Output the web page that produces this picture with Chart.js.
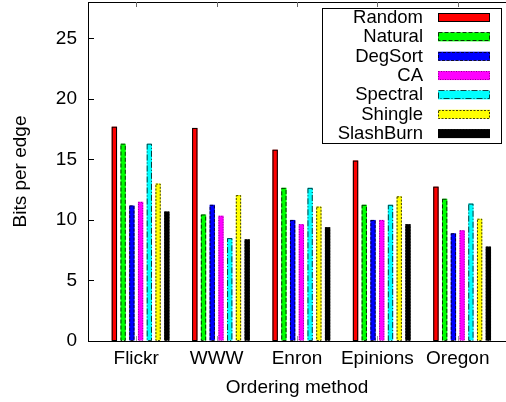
<!DOCTYPE html>
<html><head><meta charset="utf-8">
<style>html,body{margin:0;padding:0;background:#fff;overflow:hidden}#wrap{width:506px;height:402px;position:relative}</style>
<script src="https://cdn.jsdelivr.net/npm/chart.js@4/dist/chart.umd.min.js"></script>
</head><body><div id="wrap"><canvas id="c" width="506" height="402"></canvas></div>
<script>
// ---- data ----
const categories = ['Flickr', 'WWW', 'Enron', 'Epinions', 'Oregon'];
const seriesNames = ['Random', 'Natural', 'DegSort', 'CA', 'Spectral', 'Shingle', 'SlashBurn'];
const random    = [17.7, 17.6, 15.8, 14.9, 12.75];
const natural   = [16.3, 10.45, 12.65, 11.25, 11.75];
const degSort   = [11.2, 11.25, 10.0, 10.0, 8.9];
const ca        = [11.5, 10.35, 9.65, 10.0, 9.15];
const spectral  = [16.3, 8.5, 12.65, 11.25, 11.35];
const shingle   = [13.0, 12.05, 11.1, 11.95, 10.1];
const slashBurn = [10.7, 8.4, 9.4, 9.65, 7.8];
const yTicks = [0, 5, 10, 15, 20, 25];

// ---- styles ----
const seriesValues = [random, natural, degSort, ca, spectral, shingle, slashBurn];
const seriesColors = ['#ff0000', '#00ff00', '#0000ff', '#ff00ff', '#00ffff', '#ffff00', '#000000'];
const seriesDash = [[], [4, 2], [3, 1.5], [1, 1.5], [6, 2, 1, 2], [2, 1.5], [2, 1]];
const seriesEdge = ['#000', 'rgba(0,0,0,0.8)', 'rgba(0,0,0,0.8)', 'rgba(0,0,0,0.45)', 'rgba(0,0,0,0.75)', 'rgba(0,0,0,0.75)', 'rgba(0,0,0,0.8)'];
const FONT = '"Liberation Sans", Arial, Helvetica, sans-serif';

const datasets = [{ label: '', data: [], spacer: true, backgroundColor: 'rgba(0,0,0,0)' }];
seriesNames.forEach((name, s) => {
  datasets.push({
    label: name,
    data: categories.map((c, i) => ({ x: i, y: seriesValues[s][i] })),
    backgroundColor: seriesColors[s],
    borderWidth: 0,
    dash: seriesDash[s],
    edge: seriesEdge[s]
  });
});

const framePlugin = {
  id: 'frame',
  beforeDatasetsDraw(chart) {
    const { ctx, chartArea: a, scales: { x, y } } = chart;
    ctx.save();
    ctx.lineWidth = 1;
    ctx.strokeStyle = '#000';
    ctx.beginPath();
    ctx.moveTo(a.left, Math.round(a.top) + 0.5);
    ctx.lineTo(a.right, Math.round(a.top) + 0.5);
    ctx.stroke();
    // inward y ticks
    yTicks.forEach(v => {
      const py = Math.round(y.getPixelForValue(v)) + 0.5;
      ctx.beginPath();
      ctx.moveTo(a.left, py);
      ctx.lineTo(a.left + 6, py);
      ctx.stroke();
    });
    // x ticks (top & bottom, inward)
    categories.forEach((c, i) => {
      const px = Math.round(x.getPixelForValue(i)) + 0.5;
      ctx.strokeStyle = '#666';
      ctx.beginPath();
      ctx.moveTo(px, a.top);
      ctx.lineTo(px, a.top + 5);
      ctx.stroke();
      ctx.strokeStyle = '#999';
      ctx.beginPath();
      ctx.moveTo(px, a.bottom);
      ctx.lineTo(px, a.bottom - 5);
      ctx.stroke();
    });
    ctx.restore();
  },
  afterDatasetsDraw(chart) {
    const { ctx } = chart;
    ctx.save();
    ctx.lineWidth = 1;
    chart.data.datasets.forEach((ds, d) => {
      if (ds.spacer) return;
      const meta = chart.getDatasetMeta(d);
      ctx.strokeStyle = ds.edge;
      ctx.setLineDash(ds.dash);
      meta.data.forEach(el => {
        const { x, y, base, width } = el.getProps(['x', 'y', 'base', 'width'], true);
        ctx.strokeRect(x - width / 2 + 0.5, y + 0.5, width - 1, base - y - 0.5);
      });
    });
    ctx.restore();
  },
  afterDraw(chart) {
    const { ctx, chartArea: a } = chart;
    const L = a.left + 234, R = a.right - 5, T = a.top + 5.5, B = a.top + 140;
    ctx.save();
    ctx.fillStyle = '#fff';
    ctx.fillRect(L, T, R - L, B - T);
    ctx.lineWidth = 1;
    ctx.strokeStyle = '#000';
    ctx.strokeRect(Math.round(L) + 0.5, Math.round(T) + 0.5, Math.round(R - L), Math.round(B - T));
    ctx.font = '18.5px ' + FONT;
    ctx.textAlign = 'right';
    ctx.textBaseline = 'middle';
    let row = 0;
    chart.data.datasets.forEach(ds => {
      if (ds.spacer) return;
      const cy = T + 10 + row * 19.35;
      ctx.fillStyle = '#000';
      ctx.fillText(ds.label, L + 101, cy + 0.5);
      const bx = L + 116, bw = 52, bh = 9;
      ctx.fillStyle = ds.backgroundColor;
      ctx.fillRect(bx, cy - bh / 2, bw, bh);
      ctx.strokeStyle = ds.edge;
      ctx.setLineDash(ds.dash);
      ctx.strokeRect(Math.round(bx) + 0.5, Math.round(cy - bh / 2) + 0.5, bw - 1, bh - 1);
      ctx.setLineDash([]);
      row++;
    });
    ctx.restore();
  }
};

new Chart(document.getElementById('c'), {
  type: 'bar',
  data: { datasets },
  plugins: [framePlugin],
  options: {
    responsive: false,
    animation: false,
    layout: { padding: { top: 2, left: 0, right: 0, bottom: 0 } },
    categoryPercentage: 0.87,
    barPercentage: 0.61,
    plugins: { legend: { display: false }, tooltip: { enabled: false } },
    scales: {
      x: {
        type: 'linear',
        offset: false,
        min: -0.6,
        max: 4.6,
        afterBuildTicks: s => { s.ticks = categories.map((c, i) => ({ value: i })); },
        afterFit: s => { s.height = 61; s.paddingLeft = 0; s.paddingRight = 0; },
        grid: { display: true, drawOnChartArea: false, drawTicks: false },
        border: { display: true, color: '#000', width: 1 },
        ticks: {
          padding: 6.7,
          color: '#000',
          maxRotation: 0,
          autoSkip: false,
          font: { family: FONT, size: 19 },
          callback: v => categories[v]
        },
        title: {
          display: true,
          text: 'Ordering method',
          color: '#000',
          font: { family: FONT, size: 19 },
          padding: { top: 0, bottom: 3.2 }
        }
      },
      y: {
        min: 0,
        max: 28,
        afterBuildTicks: s => { s.ticks = yTicks.map(v => ({ value: v })); },
        afterFit: s => { s.width = 88; s.paddingTop = 0; s.paddingBottom = 0; },
        grid: { display: true, drawOnChartArea: false, drawTicks: false },
        border: { display: true, color: '#000', width: 1 },
        ticks: {
          padding: 11,
          color: '#000',
          font: { family: FONT, size: 19 }
        },
        title: {
          display: true,
          text: 'Bits per edge',
          color: '#000',
          font: { family: FONT, size: 19 },
          padding: { top: 9, bottom: 0 }
        }
      }
    }
  }
});
</script>
</body></html>
